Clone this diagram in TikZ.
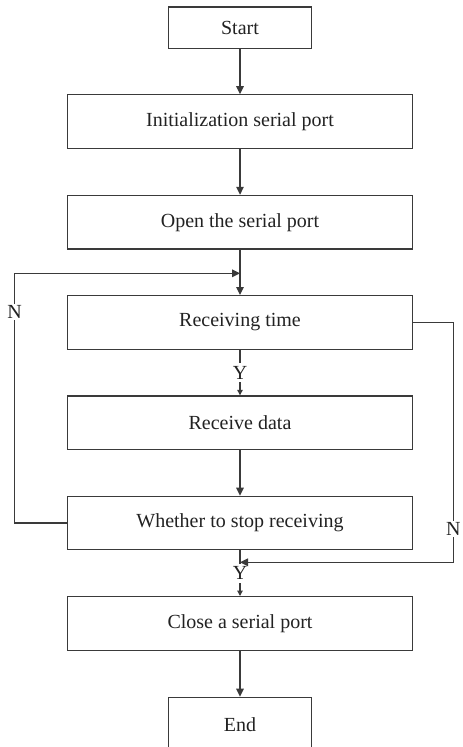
\documentclass[tikz,border=0pt]{standalone}
\usepackage{fontspec}
\setmainfont{Liberation Serif}
\usetikzlibrary{arrows.meta}
\definecolor{linegray}{HTML}{3A3A3A}
\definecolor{textgray}{HTML}{222222}
\begin{document}
\begin{tikzpicture}[x=1pt,y=-1pt,
  font=\fontsize{20}{24}\selectfont,
  box/.style={draw=linegray, line width=1.2pt, text=textgray,
    minimum height=53.6pt, minimum width=344.6pt, inner sep=0pt},
  termbox/.style={box, minimum width=143pt},
  flow/.style={draw=linegray, line width=1.2pt,
    -{Triangle[length=8pt,width=7.6pt]}},
  shortflow/.style={flow, -{Triangle[length=5.5pt,width=5.5pt]}},
  tag/.style={fill=white, text=textgray, inner sep=1.5pt},
  ytag/.style={tag, inner sep=3pt}]
\useasboundingbox (0,0) rectangle (463,747);
\clip (0,0) rectangle (463,747);

% process boxes
\node[termbox, minimum height=41.3pt] (start) at (240,27.7) {Start};
\node[box] (init)  at (240,121.5) {Initialization serial port};
\node[box] (open)  at (240,222.2) {Open the serial port};
\node[box] (recv)  at (240,322.4) {Receiving time};
\node[box] (data)  at (240,422.7) {Receive data};
\node[box] (stop)  at (240,523.0) {Whether to stop receiving};
\node[box] (close) at (240,623.4) {Close a serial port};
\node[termbox, minimum height=55pt] (end) at (240,724.8) {End};

% corner points of the loop lines
\coordinate (join)  at (240,273.3);
\coordinate (merge) at (240,562.3);
\coordinate (lt) at (14.7,273.3);
\coordinate (lb) at (14.7,523.0);
\coordinate (rt) at (453.3,322.4);
\coordinate (rb) at (453.3,562.3);

% main flow
\draw[flow] (start) -- (init);
\draw[flow] (init) -- (open);
\draw[flow] (open) -- (recv);
\draw[shortflow] (recv) -- node[ytag] {Y} (data);
\draw[flow] (data) -- (stop);
\draw[shortflow] (stop) -- node[ytag] {Y} (close);
\draw[flow] (close) -- (end);

% loop back when not stopping
\draw[flow] (stop.west) -- (lb) -- node[tag, pos=0.844] {N} (lt) -- (join);
% skip to closing when no receiving time
\draw[flow] (recv.east) -- (rt) -- node[tag, pos=0.861] {N} (rb) -- (merge);
\end{tikzpicture}
\end{document}
